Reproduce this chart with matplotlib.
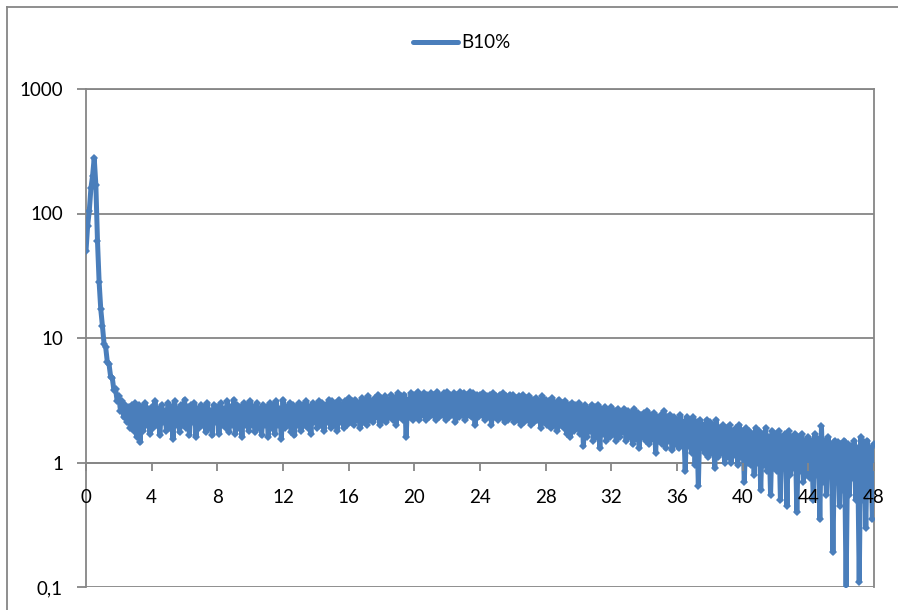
import numpy as np
import matplotlib
matplotlib.use("Agg")
import matplotlib.pyplot as plt
from matplotlib.lines import Line2D

plt.rcParams['font.family'] = ['Lato', 'DejaVu Sans']

# ---- data ----
series_name = "B10%"
y_ticks = [0.1, 1, 10, 100, 1000]
y_tick_labels = ["0,1", "1", "10", "100", "1000"]
x_ticks = list(range(0, 49, 4))

h00 = [50, 80, 105, 160, 200, 280, 170, 60, 28, 17]
h01 = [12.5, 9.0, 8.4, 6.4, 6.2, 4.9, 4.8, 3.8, 3.9, 3.1]
h02 = [3.4, 2.6, 3.1, 2.3, 2.9, 2.1, 2.8, 1.9, 2.9, 1.8]
h03 = [3.0, 1.6, 2.9, 1.45, 2.8, 1.8, 3.0, 2.0, 2.7, 1.7]
h04 = [2.8, 1.9, 3.1, 2.0, 2.7, 1.65, 2.9, 2.1, 2.6, 1.8]
h05 = [3.0, 1.9, 2.8, 1.55, 3.1, 2.0, 2.7, 1.75, 2.9, 2.0]
h06 = [3.2, 1.9, 2.8, 1.65, 2.9, 2.1, 3.0, 1.6, 2.7, 1.9]
h07 = [2.9, 2.0, 2.8, 1.75, 3.0, 1.9, 2.6, 1.65, 2.9, 2.1]
h08 = [2.8, 1.7, 3.0, 2.0, 2.7, 1.9, 3.1, 1.75, 2.8, 2.0]
h09 = [3.2, 1.7, 2.9, 1.9, 2.8, 1.6, 3.0, 2.0, 2.9, 1.8]
h10 = [3.1, 2.0, 2.8, 1.75, 3.0, 1.9, 2.7, 1.65, 2.9, 2.0]
h11 = [2.8, 1.6, 3.0, 1.9, 2.9, 1.7, 3.1, 2.0, 2.7, 1.55]
h12 = [3.2, 1.9, 2.8, 2.0, 3.0, 1.75, 2.9, 1.65, 2.8, 2.0]
h13 = [3.0, 1.8, 2.9, 2.0, 3.1, 1.9, 2.8, 1.7, 3.0, 2.1]
h14 = [2.9, 1.9, 3.1, 2.0, 3.0, 1.8, 2.9, 2.1, 3.2, 1.9]
h15 = [3.1, 2.0, 3.0, 1.8, 3.2, 2.1, 2.9, 1.9, 3.1, 2.0]
h16 = [3.3, 2.1, 3.1, 2.0, 3.2, 2.2, 3.0, 1.9, 3.3, 2.1]
h17 = [3.2, 2.0, 3.4, 2.2, 3.1, 2.1, 3.3, 2.3, 3.5, 2.0]
h18 = [3.3, 2.2, 3.4, 2.1, 3.2, 2.3, 3.5, 2.2, 3.3, 2.0]
h19 = [3.6, 2.3, 3.4, 2.2, 3.5, 1.6, 3.2, 2.3, 3.6, 2.2]
h20 = [3.5, 2.3, 3.7, 2.2, 3.4, 2.4, 3.6, 2.2, 3.5, 2.3]
h21 = [3.6, 2.4, 3.5, 2.2, 3.7, 2.3, 3.4, 2.4, 3.6, 2.2]
h22 = [3.7, 2.3, 3.5, 2.4, 3.6, 2.1, 3.5, 2.3, 3.7, 2.4]
h23 = [3.6, 2.2, 3.5, 2.4, 3.7, 2.3, 3.6, 2.0, 3.5, 2.3]
h24 = [3.5, 2.4, 3.6, 2.2, 3.4, 2.3, 3.5, 2.0, 3.6, 2.3]
h25 = [3.4, 2.2, 3.5, 2.3, 3.6, 2.1, 3.4, 2.2, 3.5, 2.3]
h26 = [3.5, 2.1, 3.3, 2.2, 3.4, 2.0, 3.5, 2.1, 3.3, 2.2]
h27 = [3.4, 2.0, 3.2, 2.1, 3.3, 2.2, 3.1, 1.9, 3.4, 2.1]
h28 = [3.2, 2.0, 3.1, 1.9, 3.3, 2.0, 3.0, 1.8, 3.2, 2.0]
h29 = [3.0, 1.9, 3.1, 1.7, 2.9, 1.6, 3.0, 1.8, 2.9, 1.9]
h30 = [3.0, 1.7, 2.8, 1.35, 2.9, 1.6, 2.7, 1.8, 2.9, 1.5]
h31 = [2.8, 1.6, 2.9, 1.3, 2.7, 1.7, 2.8, 1.5, 2.6, 1.6]
h32 = [2.8, 1.7, 2.6, 1.5, 2.7, 1.6, 2.5, 1.75, 2.7, 1.5]
h33 = [2.6, 1.6, 2.5, 1.4, 2.7, 1.55, 2.5, 1.3, 2.4, 1.6]
h34 = [2.5, 1.5, 2.6, 1.4, 2.4, 1.55, 2.5, 1.2, 2.3, 1.5]
h35 = [2.4, 1.4, 2.6, 1.3, 2.3, 1.5, 2.4, 1.25, 2.3, 1.4]
h36 = [2.2, 1.3, 2.4, 1.4, 2.1, 0.85, 2.3, 1.35, 2.2, 1.2]
h37 = [2.3, 0.95, 2.1, 0.65, 2.2, 1.3, 2.0, 1.2, 2.2, 1.1]
h38 = [2.1, 1.2, 2.0, 0.9, 2.2, 1.1, 1.9, 1.2, 2.0, 1.0]
h39 = [1.9, 1.1, 2.0, 1.0, 1.8, 1.15, 1.9, 0.95, 2.0, 1.1]
h40 = [1.8, 0.7, 1.9, 1.0, 1.8, 0.95, 1.7, 0.8, 1.9, 1.0]
h41 = [1.8, 0.6, 1.7, 0.95, 1.9, 0.85, 1.6, 0.55, 1.8, 0.9]
h42 = [1.7, 0.85, 1.8, 0.5, 1.6, 0.9, 1.7, 0.45, 1.8, 0.8]
h43 = [1.6, 0.9, 1.7, 0.4, 1.6, 0.85, 1.7, 0.7, 1.5, 0.8]
h44 = [1.6, 0.75, 1.5, 0.5, 1.7, 0.8, 1.55, 0.35, 1.95, 0.7]
h45 = [1.5, 0.55, 1.6, 0.8, 1.4, 0.19, 1.5, 0.7, 1.45, 0.45]
h46 = [1.4, 0.6, 1.5, 0.095, 1.4, 0.55, 1.35, 0.75, 1.5, 0.5]
h47 = [1.3, 0.11, 1.6, 0.5, 1.45, 0.3, 1.5, 0.6, 1.3, 0.35]
h48 = [1.4]

b10 = (h00 + h01 + h02 + h03 + h04 + h05 + h06 + h07 + h08 + h09 +
       h10 + h11 + h12 + h13 + h14 + h15 + h16 + h17 + h18 + h19 +
       h20 + h21 + h22 + h23 + h24 + h25 + h26 + h27 + h28 + h29 +
       h30 + h31 + h32 + h33 + h34 + h35 + h36 + h37 + h38 + h39 +
       h40 + h41 + h42 + h43 + h44 + h45 + h46 + h47 + h48)
hours = np.round(np.arange(len(b10)) * 0.1, 1)

# ---- styling ----
blue = "#4A7EBB"
gray = "#868686"
W, H = 898, 610

fig = plt.figure(figsize=(W / 100, H / 100), dpi=100)
ax = fig.add_axes([86 / W, 1 - 587 / H, (874 - 86) / W, (587 - 89) / H])

ax.plot(hours, b10, color=blue, lw=3.6, marker='D', markersize=4,
        markeredgewidth=0, solid_joinstyle='round', solid_capstyle='round',
        label=series_name, zorder=3)

ax.set_yscale('log')
ax.set_ylim(0.1, 1000)
ax.set_xlim(0, 48)
ax.yaxis.set_major_locator(matplotlib.ticker.FixedLocator(y_ticks))
ax.yaxis.set_minor_locator(matplotlib.ticker.NullLocator())
ax.set_yticklabels(y_tick_labels)
ax.set_xticks(x_ticks)
ax.set_xticklabels([str(t) for t in x_ticks])

ax.grid(axis='y', color=gray, lw=1.3, zorder=1)
for s in ['left', 'right', 'top', 'bottom']:
    ax.spines[s].set_color(gray)
    ax.spines[s].set_linewidth(1.3)
ax.spines['bottom'].set_position(('data', 1))
ax.spines['bottom'].set_zorder(2)
ax.xaxis.set_zorder(4)  # x tick labels drawn over the data, as in the reference

ax.tick_params(axis='y', length=6.5, width=1.3, color=gray, pad=10,
               labelsize=13.5, labelcolor='black')
ax.tick_params(axis='x', length=6, width=1.3, color=gray, pad=13,
               labelsize=13.5, labelcolor='black', direction='out')

leg_handle = Line2D([], [], color=blue, lw=3.6, solid_capstyle='round')
fig.legend([leg_handle], [series_name], loc='center',
           bbox_to_anchor=(462 / W, 1 - 43 / H), frameon=False,
           fontsize=13.5, handlelength=2.4, handletextpad=0.15)

# outer chart frame (left and top edges visible)
fig.add_artist(Line2D([7 / W, 7 / W], [0, 1 - 7 / H], color=gray, lw=1.3,
                      transform=fig.transFigure))
fig.add_artist(Line2D([7 / W, 1], [1 - 7 / H, 1 - 7 / H], color=gray, lw=1.3,
                      transform=fig.transFigure))

fig.savefig("out.png", dpi=100, facecolor='white')
